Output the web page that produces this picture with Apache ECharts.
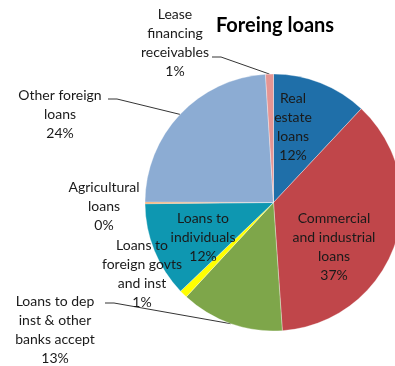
<!DOCTYPE html>
<html>
<head>
<meta charset="utf-8">
<script src="https://cdn.jsdelivr.net/npm/echarts@6/dist/echarts.min.js"></script>
<style>
  html, body { margin: 0; padding: 0; background: #ffffff; }
  #chart { width: 395px; height: 366px; }
</style>
</head>
<body>
<div id="chart"></div>
<script>
// Loan categories, in clockwise order from 12 o'clock
const categories = [
  'Real estate loans',
  'Commercial and industrial loans',
  'Loans to dep inst & other banks accept',
  'Loans to foreign govts and inst',
  'Loans to individuals',
  'Agricultural loans',
  'Other foreign loans',
  'Lease financing receivables'
];
// Wrapped label text for each category
const labelNames = [
  'Real\nestate\nloans',
  'Commercial\nand industrial\nloans',
  'Loans to dep\ninst & other\nbanks accept',
  'Loans to\nforeign govts\nand inst',
  'Loans to\nindividuals',
  'Agricultural\nloans',
  'Other foreign\nloans',
  'Lease\nfinancing\nreceivables'
];
// Share of foreign loans (percent)
const shares = [12, 37, 13, 1, 12, 0.2, 24, 1];

const sliceColors = ['#1f6fa9', '#c0464a', '#7ea64a', '#ffff00', '#0e97b1', '#f79646', '#8cacd3', '#e59593'];

// Pie geometry (pixels)
const CX = 273.5, CY = 202.5, R = 128.5;

// Label centres, relative to the pie centre
const labelSpot = [
  [19.5, -75.5], [60.5, 44.5], [-218.5, 127.5], [-131.5, 71.5],
  [-70.5, 34.5], [-169.5, 3.5], [-213.5, -88.5], [-98.5, -159.5]
];
// Leader line starts (relative to pie centre) for labels that use one
const leaderStart = { 2: [-168.5, 100.5], 6: [-165.5, -103.5], 7: [-61.5, -145.5] };

const total = shares.reduce((a, b) => a + b, 0);
function midAngle(i) {
  let acc = 0;
  for (let k = 0; k < i; k++) acc += shares[k];
  return ((acc + shares[i] / 2) / total) * Math.PI * 2;
}

const chart = echarts.init(document.getElementById('chart'), null, { renderer: 'canvas' });

const data = categories.map((name, i) => ({
  name: name,
  value: shares[i],
  itemStyle: { color: sliceColors[i] },
  labelLine: { show: leaderStart[i] != null }
}));

chart.setOption({
  animation: false,
  title: {
    text: 'Foreing loans',
    left: 270,
    textAlign: 'center',
    top: 11,
    textStyle: { fontFamily: 'Lato', fontWeight: 'bold', fontSize: 20, color: '#000' }
  },
  series: [{
    type: 'pie',
    center: [CX, CY],
    radius: R,
    startAngle: 90,
    clockwise: true,
    avoidLabelOverlap: false,
    itemStyle: { borderColor: 'rgba(255,255,255,0.55)', borderWidth: 0.6 },
    label: {
      show: true,
      position: 'outside',
      fontFamily: 'Lato',
      fontSize: 14,
      lineHeight: 19,
      color: '#1a1a1a',
      align: 'center',
      formatter: p => labelNames[p.dataIndex] + '\n' + Math.round(p.percent) + '%'
    },
    labelLine: {
      show: false,
      length: 10,
      length2: 10,
      lineStyle: { color: '#000', width: 0.8 }
    },
    labelLayout: function (params) {
      const i = params.dataIndex;
      const out = {
        x: CX + labelSpot[i][0],
        y: CY + labelSpot[i][1],
        align: 'center',
        verticalAlign: 'middle'
      };
      const s = leaderStart[i];
      if (s) {
        const a = midAngle(i);
        const sx = CX + s[0], sy = CY + s[1];
        out.labelLinePoints = [
          [sx, sy],
          [sx + 9, sy],
          [CX + R * Math.sin(a), CY - R * Math.cos(a)]
        ];
      }
      return out;
    },
    data: data
  }]
});
</script>
</body>
</html>
